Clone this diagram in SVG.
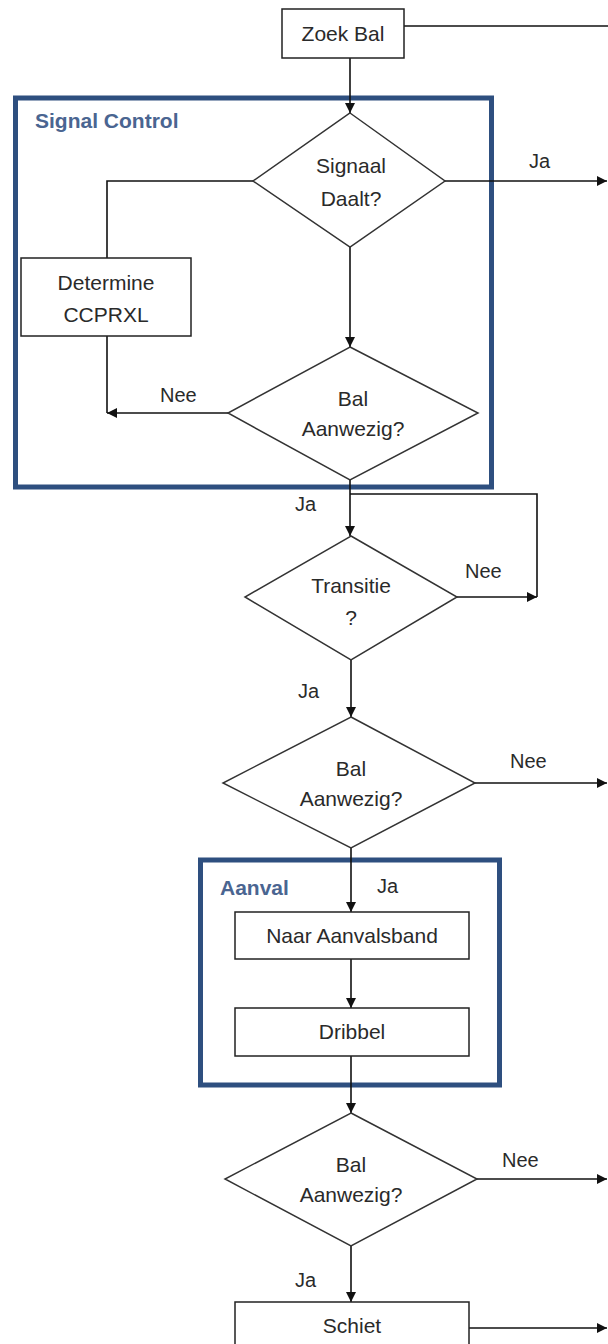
<svg xmlns="http://www.w3.org/2000/svg" width="608" height="1344" viewBox="0 0 608 1344">
<style>
.box{fill:#fff;stroke:#222;stroke-width:1.5}
.dia{fill:#fff;stroke:#333;stroke-width:1.5}
.grp{fill:none;stroke:#2e4f7f;stroke-width:5}
.t{font-family:"Liberation Sans",Arial,sans-serif;font-size:21px;fill:#2a2a2a;text-anchor:middle}
.lbl{font-family:"Liberation Sans",Arial,sans-serif;font-size:20px;fill:#2a2a2a}
.gl{font-family:"Liberation Sans",Arial,sans-serif;font-size:21px;font-weight:bold;fill:#4a6591}
.c{fill:none;stroke:#111;stroke-width:1.6}
</style>
<defs>
<marker id="ah" markerWidth="10" markerHeight="10" refX="10" refY="5" orient="auto" markerUnits="userSpaceOnUse">
<path d="M0,0 L10,5 L0,10 Z" fill="#111"/>
</marker>
</defs>
<rect width="608" height="1344" fill="#fff"/>

<g id="group-signal-control">
<rect class="grp" x="15.5" y="98" width="476" height="389"/>
<text class="gl" x="35" y="128">Signal Control</text>
</g>
<g id="group-aanval">
<rect class="grp" x="200.5" y="860" width="299" height="225"/>
<text class="gl" x="220" y="895">Aanval</text>
</g>

<g id="connectors">
<line class="c" x1="404" y1="26" x2="608" y2="26"/>
<line class="c" x1="350" y1="58" x2="350" y2="113" marker-end="url(#ah)"/>
<line class="c" x1="445" y1="181" x2="607" y2="181" marker-end="url(#ah)"/>
<polyline class="c" points="253,181 107,181 107,258"/>
<line class="c" x1="107" y1="336" x2="107" y2="413"/>
<line class="c" x1="228" y1="413" x2="107" y2="413" marker-end="url(#ah)"/>
<line class="c" x1="350" y1="247" x2="350" y2="347" marker-end="url(#ah)"/>
<line class="c" x1="350" y1="480" x2="350" y2="536" marker-end="url(#ah)"/>
<polyline class="c" points="350,494 537,494 537,597"/>
<line class="c" x1="457" y1="597" x2="537" y2="597" marker-end="url(#ah)"/>
<line class="c" x1="351" y1="660" x2="351" y2="717" marker-end="url(#ah)"/>
<line class="c" x1="475" y1="783" x2="607" y2="783" marker-end="url(#ah)"/>
<line class="c" x1="351" y1="848" x2="351" y2="912" marker-end="url(#ah)"/>
<line class="c" x1="351" y1="959" x2="351" y2="1008" marker-end="url(#ah)"/>
<line class="c" x1="351" y1="1056" x2="351" y2="1113" marker-end="url(#ah)"/>
<line class="c" x1="477" y1="1179" x2="607" y2="1179" marker-end="url(#ah)"/>
<line class="c" x1="351" y1="1246" x2="351" y2="1302" marker-end="url(#ah)"/>
<line class="c" x1="469" y1="1328" x2="607" y2="1328" marker-end="url(#ah)"/>
<text class="lbl" x="529" y="168">Ja</text>
<text class="lbl" x="160" y="402">Nee</text>
<text class="lbl" x="295" y="511">Ja</text>
<text class="lbl" x="465" y="578">Nee</text>
<text class="lbl" x="298" y="698">Ja</text>
<text class="lbl" x="510" y="768">Nee</text>
<text class="lbl" x="377" y="893">Ja</text>
<text class="lbl" x="502" y="1167">Nee</text>
<text class="lbl" x="295" y="1287">Ja</text>
</g>

<g id="node-zoek-bal">
<rect class="box" x="282" y="9" width="122" height="49"/>
<text class="t" x="343" y="41">Zoek Bal</text>
</g>
<g id="node-signaal-daalt">
<polygon class="dia" points="350,113 445,181 350,247 253,181"/>
<text class="t" x="351" y="173">Signaal</text>
<text class="t" x="351" y="206">Daalt?</text>
</g>
<g id="node-determine">
<rect class="box" x="21" y="258" width="170" height="78"/>
<text class="t" x="106" y="290">Determine</text>
<text class="t" x="106" y="322">CCPRXL</text>
</g>
<g id="node-bal-aanwezig-1">
<polygon class="dia" points="350,347 478,413 350,480 228,413"/>
<text class="t" x="353" y="406">Bal</text>
<text class="t" x="353" y="436">Aanwezig?</text>
</g>
<g id="node-transitie">
<polygon class="dia" points="351,536 457,597 351,660 245,597"/>
<text class="t" x="351" y="593">Transitie</text>
<text class="t" x="351" y="625">?</text>
</g>
<g id="node-bal-aanwezig-2">
<polygon class="dia" points="351,717 475,783 351,848 223,783"/>
<text class="t" x="351" y="776">Bal</text>
<text class="t" x="351" y="806">Aanwezig?</text>
</g>
<g id="node-naar-aanvalsband">
<rect class="box" x="235" y="912" width="234" height="47"/>
<text class="t" x="352" y="943">Naar Aanvalsband</text>
</g>
<g id="node-dribbel">
<rect class="box" x="235" y="1008" width="234" height="48"/>
<text class="t" x="352" y="1039">Dribbel</text>
</g>
<g id="node-bal-aanwezig-3">
<polygon class="dia" points="351,1113 477,1179 351,1246 225,1179"/>
<text class="t" x="351" y="1172">Bal</text>
<text class="t" x="351" y="1202">Aanwezig?</text>
</g>
<g id="node-schiet">
<rect class="box" x="235" y="1302" width="234" height="50"/>
<text class="t" x="352" y="1333">Schiet</text>
</g>
</svg>
